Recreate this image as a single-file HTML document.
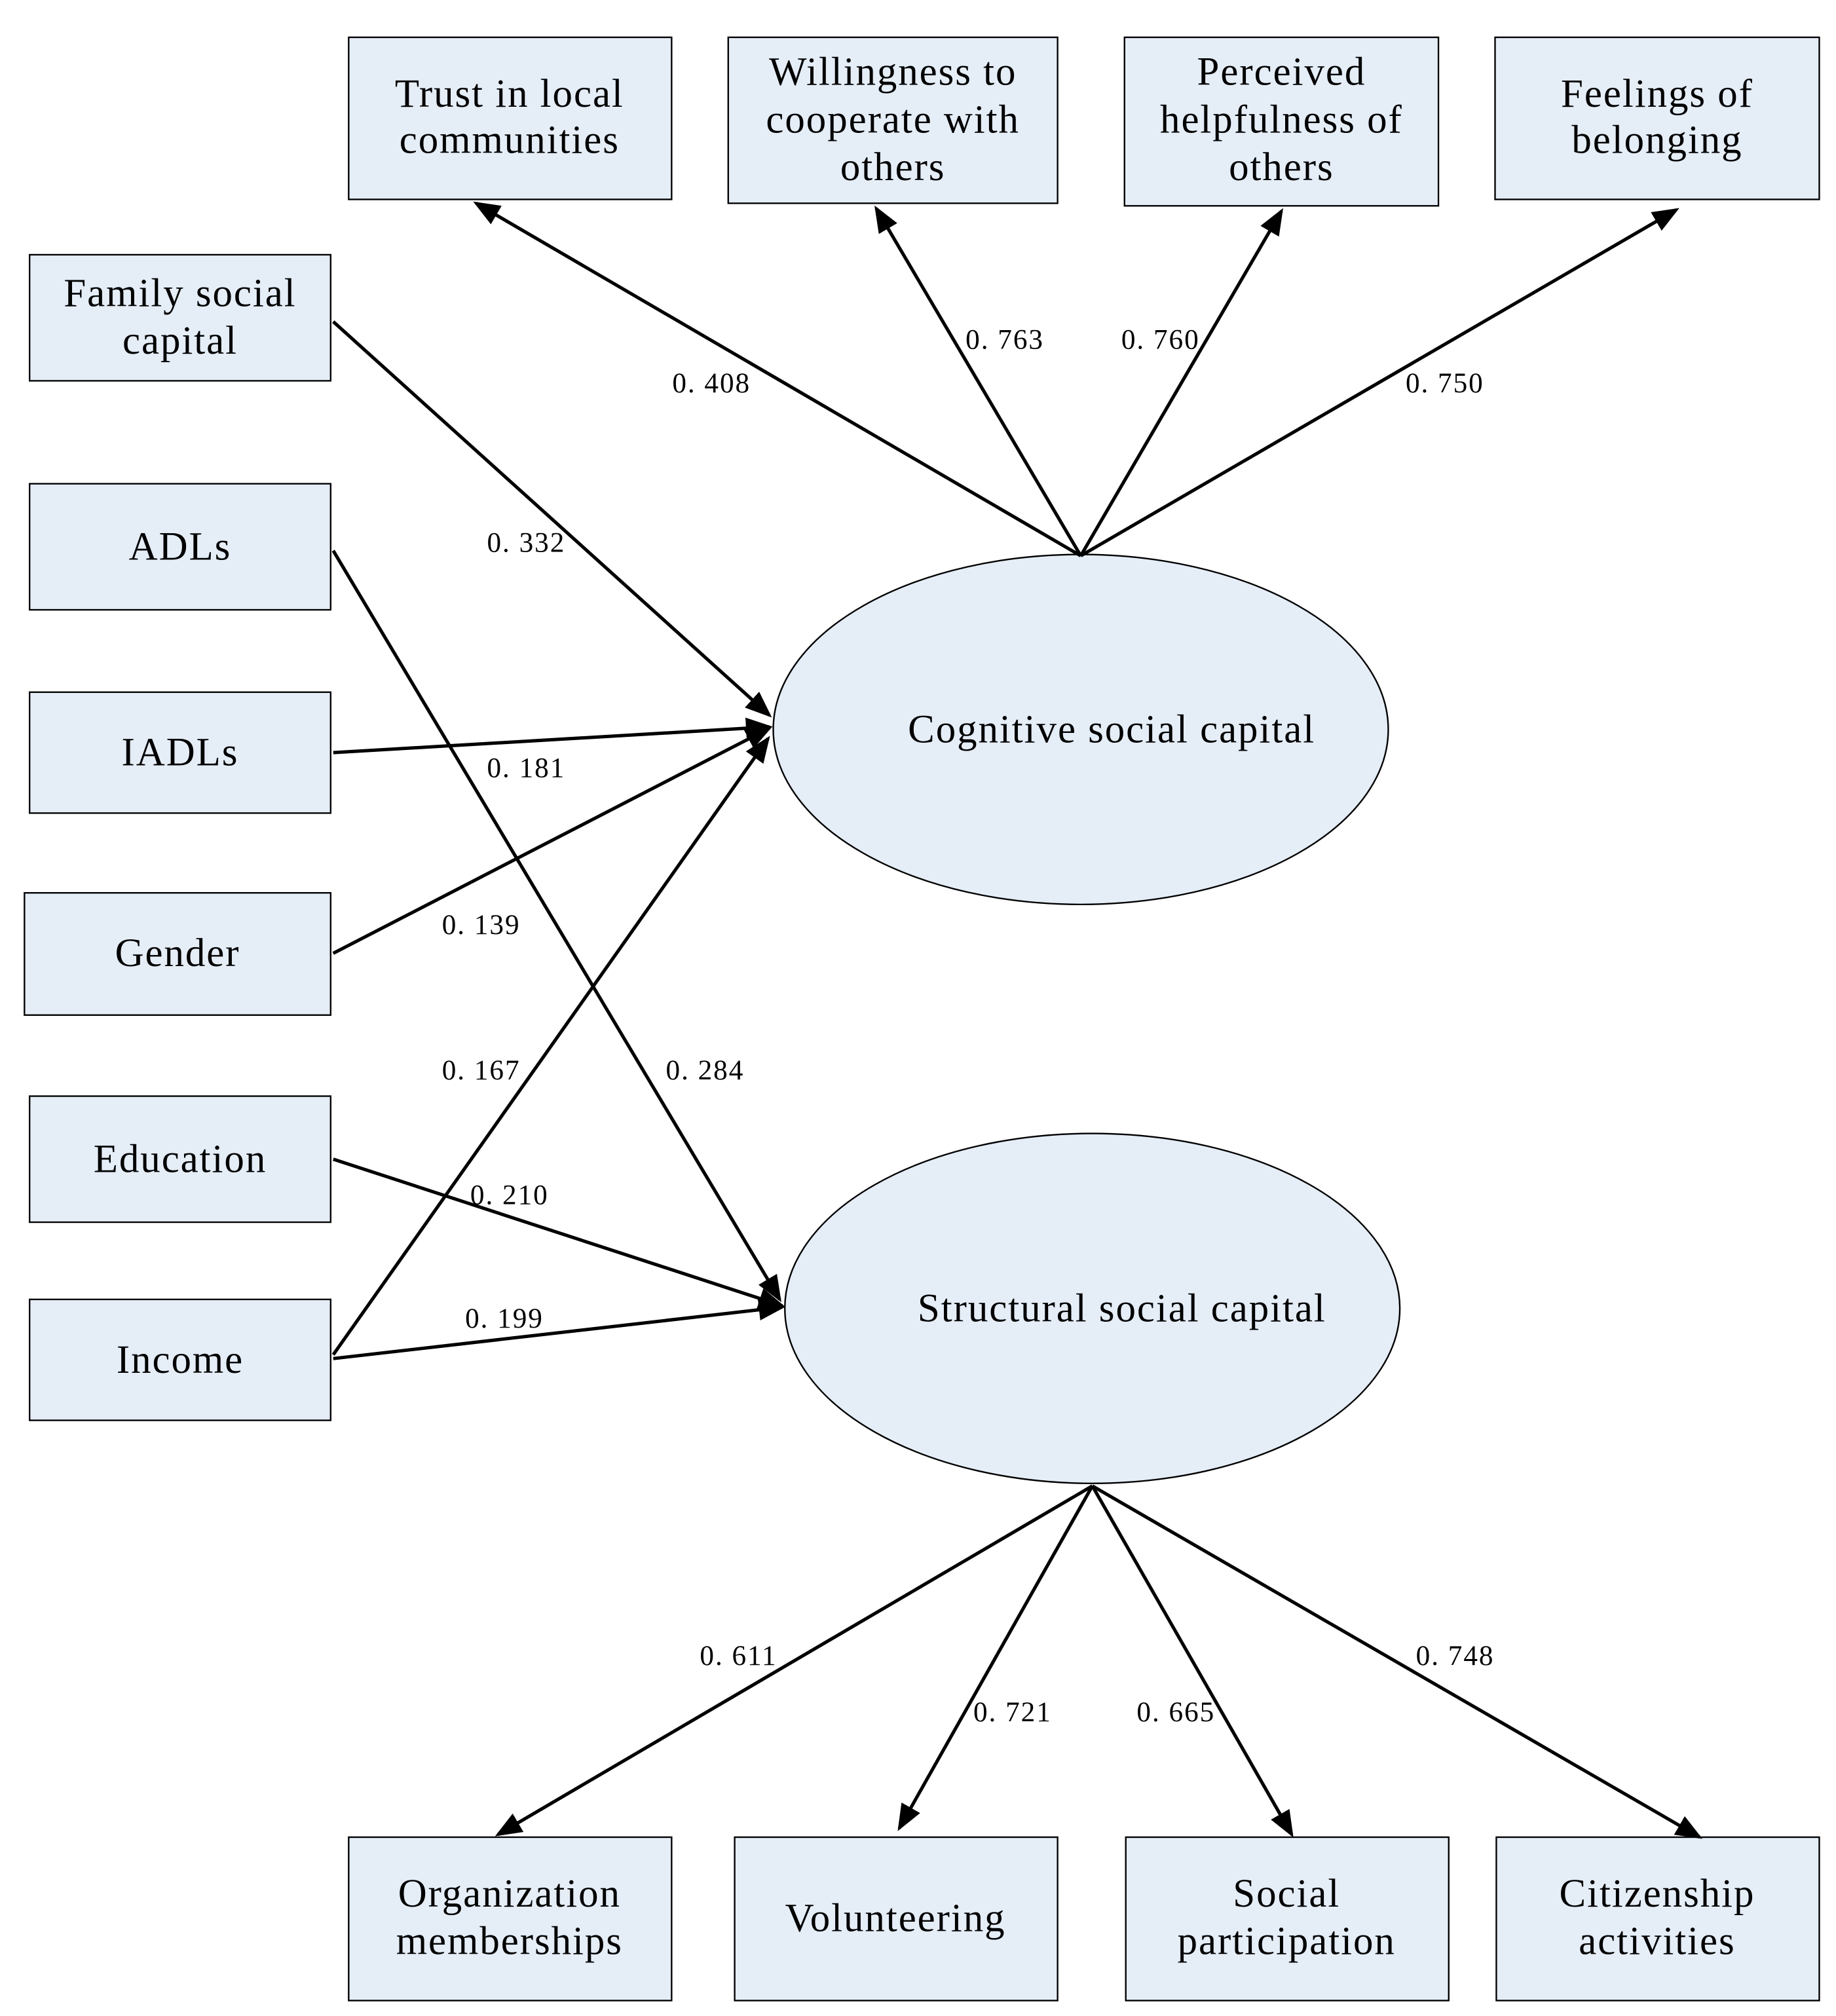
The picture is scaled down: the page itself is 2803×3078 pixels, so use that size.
<!DOCTYPE html>
<html><head><meta charset="utf-8"><style>
html,body{margin:0;padding:0;background:#fff;}
svg{display:block;}
.b{fill:#e5edf7;stroke:#000;stroke-width:1.2;}
.t{font-family:"Liberation Serif",serif;font-size:31px;letter-spacing:1px;fill:#000;text-anchor:middle;}
.n{font-family:"Liberation Serif","Noto Serif CJK SC",serif;font-size:22px;letter-spacing:1px;fill:#000;text-anchor:middle;}
.a{stroke:#000;stroke-width:2.6;fill:none;marker-end:url(#m);}
</style></head><body>
<svg width="2803" height="3078" viewBox="0 0 1427 1567" preserveAspectRatio="none" xmlns="http://www.w3.org/2000/svg">
<defs><marker id="m" markerWidth="8" markerHeight="8" refX="7" refY="4" orient="auto" markerUnits="strokeWidth"><path d="M0,0.8 L8,4 L0,7.2 Z" fill="#000"/></marker></defs>
<rect class="b" x="271" y="29" width="251" height="126"/>
<text class="t" x="396" y="83">Trust in local</text><text class="t" x="396" y="119">communities</text>
<rect class="b" x="566" y="29" width="256" height="129"/>
<text class="t" x="694" y="66">Willingness to</text><text class="t" x="694" y="103">cooperate with</text><text class="t" x="694" y="140">others</text>
<rect class="b" x="874" y="29" width="244" height="131"/>
<text class="t" x="996" y="66">Perceived</text><text class="t" x="996" y="103">helpfulness of</text><text class="t" x="996" y="140">others</text>
<rect class="b" x="1162" y="29" width="252" height="126"/>
<text class="t" x="1288" y="83">Feelings of</text><text class="t" x="1288" y="119">belonging</text>
<rect class="b" x="23" y="198" width="234" height="98"/>
<text class="t" x="140" y="238">Family social</text><text class="t" x="140" y="275">capital</text>
<rect class="b" x="23" y="376" width="234" height="98"/><text class="t" x="140" y="435">ADLs</text>
<rect class="b" x="23" y="538" width="234" height="94"/><text class="t" x="140" y="595">IADLs</text>
<rect class="b" x="19" y="694" width="238" height="95"/><text class="t" x="138" y="751">Gender</text>
<rect class="b" x="23" y="852" width="234" height="98"/><text class="t" x="140" y="911">Education</text>
<rect class="b" x="23" y="1010" width="234" height="94"/><text class="t" x="140" y="1067">Income</text>
<ellipse class="b" cx="840" cy="567" rx="239" ry="136"/>
<text class="t" x="864" y="577">Cognitive social capital</text>
<ellipse class="b" cx="849" cy="1017" rx="239" ry="136"/>
<text class="t" x="872" y="1027">Structural social capital</text>
<rect class="b" x="271" y="1428" width="251" height="127"/>
<text class="t" x="396" y="1482">Organization</text><text class="t" x="396" y="1519">memberships</text>
<rect class="b" x="571" y="1428" width="251" height="127"/><text class="t" x="696" y="1501">Volunteering</text>
<rect class="b" x="875" y="1428" width="251" height="127"/>
<text class="t" x="1000" y="1482">Social</text><text class="t" x="1000" y="1519">participation</text>
<rect class="b" x="1163" y="1428" width="251" height="127"/>
<text class="t" x="1288" y="1482">Citizenship</text><text class="t" x="1288" y="1519">activities</text>
<line class="a" x1="840" y1="432" x2="370" y2="158"/>
<line class="a" x1="840" y1="432" x2="681" y2="162"/>
<line class="a" x1="840" y1="432" x2="996" y2="164"/>
<line class="a" x1="840" y1="432" x2="1303" y2="163"/>
<line class="a" x1="259" y1="250" x2="598" y2="556"/>
<line class="a" x1="259" y1="428" x2="606" y2="1010"/>
<line class="a" x1="259" y1="585" x2="598" y2="565"/>
<line class="a" x1="259" y1="741" x2="598" y2="566"/>
<line class="a" x1="259" y1="1053" x2="597" y2="574"/>
<line class="a" x1="259" y1="901" x2="608" y2="1015"/>
<line class="a" x1="259" y1="1056" x2="608" y2="1016"/>
<line class="a" x1="849" y1="1155" x2="387" y2="1426"/>
<line class="a" x1="849" y1="1155" x2="699" y2="1421"/>
<line class="a" x1="849" y1="1155" x2="1004" y2="1426"/>
<line class="a" x1="849" y1="1155" x2="1321" y2="1428"/>
<text class="n" x="553" y="305">0. 408</text>
<text class="n" x="781" y="271">0. 763</text>
<text class="n" x="902" y="271">0. 760</text>
<text class="n" x="1123" y="305">0. 750</text>
<text class="n" x="409" y="429">0. 332</text>
<text class="n" x="409" y="604">0. 181</text>
<text class="n" x="374" y="726">0. 139</text>
<text class="n" x="374" y="839">0. 167</text>
<text class="n" x="548" y="839">0. 284</text>
<text class="n" x="396" y="936">0. 210</text>
<text class="n" x="392" y="1032">0. 199</text>
<text class="n" x="574" y="1294">0. 611</text>
<text class="n" x="787" y="1338">0. 721</text>
<text class="n" x="914" y="1338">0. 665</text>
<text class="n" x="1131" y="1294">0. 748</text>
</svg>
</body></html>
